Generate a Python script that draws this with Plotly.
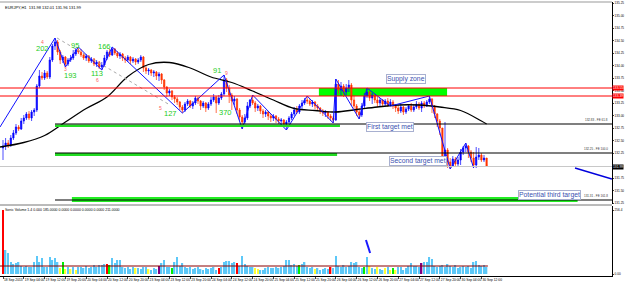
import plotly.graph_objects as go

# ---------------- data ----------------
open0 = 132.35
close = [132.39,132.45,132.41,132.55,132.65,132.77,132.73,132.89,132.95,133.03,
         132.95,133.07,133.11,133.59,133.79,133.75,133.85,133.77,134.11,134.39,
         134.47,134.27,134.11,134.17,134.03,134.11,134.15,134.23,134.31,134.27,
         134.21,134.15,134.19,134.09,134.13,134.03,134.07,133.97,134.01,134.15,
         134.27,134.21,134.33,134.25,134.19,134.23,134.15,134.11,134.17,134.09,
         134.13,134.07,134.11,134.17,133.95,133.89,133.91,133.85,133.87,133.79,
         133.83,133.71,133.57,133.45,133.49,133.37,133.33,133.27,133.17,133.11,
         133.23,133.29,133.19,133.25,133.35,133.29,133.19,133.25,133.15,133.23,
         133.31,133.37,133.25,133.35,133.43,133.71,133.55,133.41,133.29,133.33,
         133.11,132.97,132.87,132.95,133.19,133.31,133.25,133.15,133.19,133.09,
         133.03,133.07,132.99,132.95,132.99,132.93,132.89,132.91,132.83,132.87,
         132.95,133.03,133.11,133.07,133.19,133.25,133.31,133.29,133.23,133.27,
         133.19,133.15,133.09,133.05,133.07,132.99,132.95,132.91,133.63,133.51,
         133.59,133.47,133.55,133.61,133.31,133.19,133.07,133.01,133.19,133.39,
         133.47,133.35,133.41,133.31,133.25,133.31,133.23,133.29,133.21,133.27,
         133.19,133.15,133.09,133.17,133.07,133.13,133.19,133.11,133.17,133.23,
         133.15,133.25,133.19,133.27,133.33,133.19,133.03,132.89,132.75,132.11,
         132.31,132.07,131.99,132.13,132.03,132.11,132.27,132.35,132.39,132.27,
         132.15,132.01,132.17,132.21,132.11,132.15,131.99]
high = [132.51,132.55,132.51,132.61,132.71,132.83,132.81,132.95,133.01,133.07,
        133.09,133.11,133.15,133.63,133.91,133.87,133.91,133.89,134.17,134.43,
        134.55,134.51,134.31,134.21,134.19,134.15,134.21,134.31,134.35,134.37,
        134.33,134.25,134.23,134.21,134.17,134.15,134.11,134.09,134.07,134.21,
        134.31,134.33,134.37,134.35,134.29,134.27,134.25,134.19,134.21,134.19,
        134.17,134.15,134.15,134.21,134.19,133.99,133.95,133.93,133.91,133.89,
        133.87,133.85,133.73,133.59,133.53,133.51,133.41,133.37,133.29,133.21,
        133.27,133.33,133.31,133.29,133.39,133.37,133.31,133.29,133.27,133.27,
        133.37,133.43,133.39,133.41,133.47,133.81,133.75,133.61,133.45,133.39,
        133.35,133.15,133.01,133.03,133.27,133.33,133.41,133.29,133.23,133.21,
        133.13,133.11,133.09,133.03,133.03,133.01,132.97,132.95,132.93,132.91,
        132.99,133.07,133.17,133.19,133.23,133.31,133.35,133.39,133.33,133.31,
        133.29,133.23,133.17,133.13,133.11,133.09,133.03,132.99,133.73,133.71,
        133.67,133.63,133.63,133.71,133.65,133.41,133.23,133.15,133.25,133.45,
        133.55,133.49,133.45,133.43,133.37,133.35,133.33,133.33,133.35,133.33,
        133.31,133.23,133.21,133.23,133.19,133.17,133.23,133.25,133.23,133.29,
        133.27,133.29,133.29,133.31,133.39,133.35,133.21,133.05,132.93,132.75,
        132.87,132.35,132.15,132.19,132.17,132.17,132.33,132.39,132.45,132.41,
        132.31,132.27,132.37,132.35,132.25,132.21,132.15]
low = [132.11,132.31,132.35,132.37,132.51,132.61,132.69,132.71,132.83,132.91,
       132.91,132.89,132.99,133.07,133.55,133.71,133.71,133.73,133.73,134.07,
       134.31,134.21,134.03,134.05,133.97,133.99,134.07,134.11,134.19,134.23,
       134.17,134.11,134.09,134.05,134.05,133.99,133.97,133.93,133.91,133.97,
       134.11,134.17,134.19,134.21,134.15,134.13,134.09,134.05,134.07,134.03,
       134.05,134.01,134.03,134.07,133.87,133.83,133.81,133.79,133.77,133.71,
       133.69,133.63,133.51,133.37,133.39,133.31,133.25,133.21,133.11,133.05,
       133.07,133.19,133.15,133.13,133.21,133.23,133.11,133.15,133.07,133.11,
       133.19,133.27,133.05,133.21,133.31,133.39,133.47,133.25,133.11,133.21,
       133.03,132.89,132.73,132.83,132.91,133.15,133.21,133.07,133.09,133.03,
       132.95,132.97,132.91,132.87,132.89,132.85,132.83,132.81,132.77,132.71,
       132.83,132.91,132.99,133.03,133.03,133.13,133.21,133.23,133.19,133.17,
       133.13,133.09,133.03,132.99,132.97,132.93,132.89,132.85,132.89,133.43,
       133.39,133.37,133.41,133.47,133.19,133.11,132.99,132.93,132.97,133.15,
       133.35,133.29,133.23,133.25,133.17,133.19,133.17,133.19,133.17,133.19,
       133.13,133.07,133.03,133.05,133.01,133.03,133.09,133.07,133.07,133.13,
       133.11,133.07,133.15,133.17,133.23,133.05,132.95,132.77,132.61,132.05,
       132.03,131.95,131.93,131.97,131.97,131.99,132.01,132.21,132.27,132.15,
       132.07,131.95,131.95,132.11,132.07,132.07,131.97]
n = len(close)
bars = list(range(n))
opens = [open0] + close[:-1]

volume = [256,96,84,48,40,44,48,32,28,32,28,28,48,72,48,64,28,28,68,56,
          64,48,24,48,20,28,20,28,16,28,28,24,32,24,28,36,28,36,36,40,
          40,36,64,44,56,56,28,24,28,20,28,24,24,20,28,28,20,16,24,20,
          32,44,56,28,28,24,48,68,32,44,28,24,28,20,24,28,20,16,24,20,
          24,28,16,24,28,48,52,52,44,48,44,32,72,40,32,28,28,24,20,16,
          16,24,28,24,24,28,24,28,32,56,56,36,40,32,36,40,48,28,24,28,
          20,24,16,20,24,20,28,24,72,32,28,36,28,32,48,44,48,28,24,28,
          68,32,24,20,28,20,16,24,28,16,24,16,28,28,16,24,32,44,32,32,
          28,44,48,48,68,60,32,28,32,36,28,40,32,28,36,24,28,32,28,32,
          24,48,52,36,32,36,28]
vol_class = ("rbbbbbbbbbbbbbbbbbbbbbygybybybbbbbbbbbbbrgbbbbbbbbbybbbbybbbpbbbbgbbbbbbbbbbbbbbbbb"
             "rbbbbbbrbbbbbbyybbbbbbbbbbbbbbbgbbbbbybbbbbrbbbbbbbbbbbbgbybbybbybygybbbbbbbbbpbbb"
             "bbbbbbbbbbbbbbbbbbbbbbb")
vol_avg = 32

ma_bars = [-1.15, 8, 16, 24, 32, 40, 48, 56, 64, 72, 80, 88, 96, 104, 112, 120,
           128, 136, 144, 152, 160, 168, 176, 184, 186]
ma_vals = [132.37, 132.46, 132.60, 132.87, 133.14, 133.37, 133.78, 134.02, 134.06,
           133.95, 133.77, 133.66, 133.49, 133.31, 133.14, 133.10, 133.07, 133.12,
           133.17, 133.21, 133.21, 133.17, 133.10, 132.89, 132.83]

zz_bars = [-1.15, 20, 24, 29, 38, 42, 69, 85, 92, 96, 109, 117, 127, 128, 137, 140,
           149, 164, 172, 178, 181]
zz_vals = [132.77, 134.55, 133.97, 134.37, 133.91, 134.37, 133.05, 133.81, 132.73,
           133.41, 132.71, 133.39, 132.85, 133.73, 132.93, 133.55, 133.19, 133.39,
           131.93, 132.45, 131.95]

x_labels = ["18 Sep 2013", "19 Sep 04:00", "19 Sep 12:00", "19 Sep 20:00", "20 Sep 04:00",
            "20 Sep 12:00", "20 Sep 20:00", "23 Sep 04:00", "23 Sep 12:00", "23 Sep 20:00",
            "24 Sep 04:00", "24 Sep 12:00", "24 Sep 20:00", "25 Sep 04:00", "25 Sep 12:00",
            "25 Sep 20:00", "26 Sep 04:00", "26 Sep 12:00", "26 Sep 20:00", "27 Sep 04:00",
            "27 Sep 12:00", "27 Sep 20:00", "30 Sep 04:00", "30 Sep 12:00"]
x_label_bars = [8 * k for k in range(len(x_labels))]
price_ticks = [131.25 + 0.25 * k for k in range(17)]

supply_high, supply_low = 133.55, 133.39
supply_start, supply_end = 121.5, 170.8
target1, target2, target3 = 132.83, 132.25, 131.31
target_start = 20
bid = 131.98
bid_text = "131.99"

zz_labels = [(15, 134.35, "202"), (25.8, 133.81, "193"), (27.7, 134.41, "95"),
             (39.2, 134.39, "166"), (36.2, 133.85, "113"), (64.5, 133.05, "127"),
             (82.3, 133.91, "91"), (85.4, 133.07, "370")]
zz_small = [(15, 134.47, "4"), (24.2, 133.93, "3"), (36.2, 133.71, "6"),
            (60.5, 133.15, "5"), (85.8, 133.86, "9")]

# ---------------- figure ----------------
XR = [-1.154, 234.23]
FONT = "Liberation Sans, Arial, sans-serif"
cmap = {"b": "#5cc8f8", "r": "#ff0000", "y": "#ffff33", "g": "#00ee00", "p": "#800080"}

fig = go.Figure()

fig.add_trace(go.Scatter(x=ma_bars, y=ma_vals, mode="lines", line=dict(color="black", width=1.3, shape="spline"),
                         xaxis="x", yaxis="y", hoverinfo="skip"))
fig.add_trace(go.Scatter(x=[20.8, 64.2], y=[134.55, 133.21], mode="lines",
                         line=dict(color="#aaaaaa", width=1, dash="dot"), xaxis="x", yaxis="y"))
fig.add_trace(go.Candlestick(x=bars, open=opens, high=high, low=low, close=close,
                             increasing=dict(line=dict(color="#0000ff", width=0.7), fillcolor="#0000ff"),
                             decreasing=dict(line=dict(color="#ff3300", width=0.7), fillcolor="#ff3300"),
                             whiskerwidth=0, xaxis="x", yaxis="y"))
fig.add_trace(go.Scatter(x=zz_bars, y=zz_vals, mode="lines", line=dict(color="#1010ff", width=1),
                         xaxis="x", yaxis="y"))
fig.add_trace(go.Scatter(x=[220, 234.2], y=[131.95, 131.73], mode="lines",
                         line=dict(color="#0000dd", width=1.4), xaxis="x", yaxis="y"))

fig.add_trace(go.Bar(x=bars, y=volume, marker=dict(color=[cmap[c] for c in vol_class[:n]], line=dict(width=0)),
                     width=0.55, xaxis="x2", yaxis="y2"))
fig.add_trace(go.Scatter(x=[-1.15, 186.5], y=[vol_avg, vol_avg], mode="lines",
                         line=dict(color="#8b0000", width=1), xaxis="x2", yaxis="y2"))
fig.add_trace(go.Scatter(x=[139.6, 141.2], y=[136, 84], mode="lines",
                         line=dict(color="#1a1aff", width=2), xaxis="x2", yaxis="y2"))

shapes = []
shapes.append(dict(type="rect", xref="x", yref="y", x0=supply_start, x1=supply_end, y0=supply_low,
                   y1=supply_high, fillcolor="#00ff00", line=dict(width=0), layer="below"))
for lv in (supply_high, supply_low):
    shapes.append(dict(type="line", xref="x", yref="y", x0=XR[0], x1=XR[1], y0=lv, y1=lv,
                       line=dict(color="#ff0000", width=1)))
shapes.append(dict(type="line", xref="x", yref="y", x0=target_start, x1=129.6, y0=target1 - 0.035,
                   y1=target1 - 0.035, line=dict(color="#22dd22", width=2.5)))
shapes.append(dict(type="line", xref="x", yref="y", x0=target_start, x1=128.5, y0=target2 - 0.03,
                   y1=target2 - 0.03, line=dict(color="#22dd22", width=3)))
shapes.append(dict(type="rect", xref="x", yref="y", x0=26.5, x1=221, y0=target3 - 0.04, y1=target3 + 0.06,
                   fillcolor="#22ee22", line=dict(width=0)))
for lv in (target1, target2, target3):
    shapes.append(dict(type="line", xref="x", yref="y", x0=target_start, x1=XR[1], y0=lv, y1=lv,
                       line=dict(color="black", width=1.2)))
shapes.append(dict(type="line", xref="x", yref="y", x0=XR[0], x1=XR[1], y0=bid, y1=bid,
                   line=dict(color="#c8c8c8", width=1)))
sep = (276 - 205) / 274
shapes.append(dict(type="line", xref="paper", yref="paper", x0=0, x1=1, y0=1, y1=1,
                   line=dict(color="#999999", width=1)))
shapes.append(dict(type="line", xref="paper", yref="paper", x0=0, x1=1, y0=sep, y1=sep,
                   line=dict(color="#777777", width=1)))

ann = []
for x, y, t in zz_labels:
    ann.append(dict(x=x, y=y, xref="x", yref="y", text=t, showarrow=False,
                    font=dict(color="#22cc22", size=7.5, family=FONT)))
for x, y, t in zz_small:
    ann.append(dict(x=x, y=y, xref="x", yref="y", text=t, showarrow=False,
                    font=dict(color="#ff6060", size=5, family=FONT)))
boxes = [(155, 133.74, "Supply zone"), (148.8, 132.77, "First target met"),
         (159.6, 132.09, "Second target met"), (210.3, 131.42, "Potential third target")]
for x, y, t in boxes:
    ann.append(dict(x=x, y=y, xref="x", yref="y", text=t, showarrow=False, bgcolor="white",
                    bordercolor="#a8b0d0", borderwidth=1, borderpad=0,
                    font=dict(color="#3a50b0", size=6.8, family=FONT)))
fe = [(target1, "132.83 - FE 61.8"), (target2, "132.25 - FE 100.0"), (target3, "131.31 - FE 161.8")]
for y, t in fe:
    ann.append(dict(x=233.6, y=y + 0.01, xref="x", yref="y", text=t, showarrow=False,
                    xanchor="right", yanchor="bottom", font=dict(color="#333333", size=3, family=FONT)))
for y, t, bg in [(supply_high, "133.55", "#ff0000"), (supply_low, "133.39", "#ff0000"), (bid, bid_text, "black")]:
    ann.append(dict(x=1.0, y=y, xref="paper", yref="y", text=t, showarrow=False, xanchor="left",
                    bgcolor=bg, borderpad=0, font=dict(color="white", size=3.3, family=FONT)))
ann.append(dict(x=0.005, y=0.998, xref="paper", yref="paper", xanchor="left", yanchor="top",
                text="EURJPY,H1  131.98 132.01 131.96 131.99", showarrow=False,
                font=dict(size=4, color="black", family=FONT)))
ann.append(dict(x=0.005, y=sep - 0.005, xref="paper", yref="paper", xanchor="left", yanchor="top",
                text="Sonic Volume 1.4 0.000 185.0000 0.0000 0.0000 0.0000 0.0000 211.0000", showarrow=False,
                font=dict(size=3.5, color="black", family=FONT)))

# the price-tag box covers the tick label that sits under it
tick_text = ["" if abs(v - bid) < 0.05 else "%.2f" % v for v in price_ticks]

fig.update_layout(
    width=625, height=284, margin=dict(l=0, r=13, t=2, b=8, autoexpand=False),
    paper_bgcolor="white", plot_bgcolor="white", showlegend=False,
    font=dict(family=FONT, size=4, color="black"),
    shapes=shapes, annotations=ann, bargap=0.4,
    xaxis=dict(domain=[0, 1], range=XR, anchor="y", showticklabels=False, showgrid=False,
               zeroline=False, rangeslider=dict(visible=False), ticks="", automargin=False),
    yaxis=dict(domain=[(276 - 204) / 274, 1], range=[131.23, 135.27], side="right", anchor="x",
               tickvals=price_ticks, ticktext=tick_text,
               tickfont=dict(size=3.1), ticks="outside", ticklen=1, ticklabelstandoff=0,
               showgrid=False, zeroline=False,
               showline=True, linecolor="black", linewidth=1, automargin=False),
    xaxis2=dict(domain=[0, 1], range=XR, anchor="y2", tickvals=x_label_bars, ticktext=x_labels,
                tickfont=dict(size=3.3), ticks="outside", ticklen=2, tickangle=0,
                ticklabelposition="outside right", automargin=False,
                showgrid=False, zeroline=False, showline=True, linecolor="black", linewidth=1),
    yaxis2=dict(domain=[0, (276 - 206) / 274], range=[-8, 272], side="right", anchor="x2",
                tickvals=[0, 256], ticktext=["0.00", "256.4"], tickfont=dict(size=3.1),
                ticks="outside", ticklen=1, ticklabelstandoff=0, showgrid=False, zeroline=False,
                showline=True, linecolor="black", linewidth=1, automargin=False),
)

fig.write_html("out.html")
